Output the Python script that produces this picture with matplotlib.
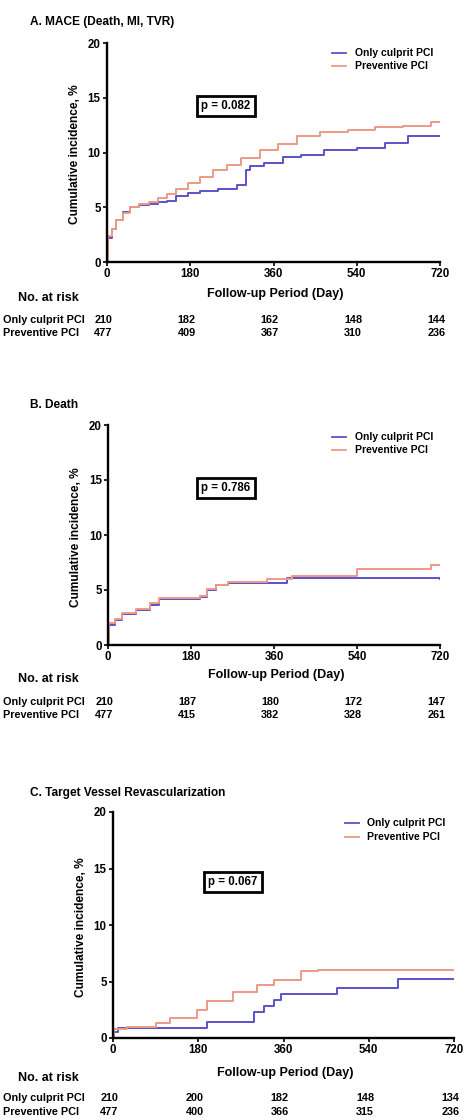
import matplotlib
matplotlib.use("Agg")
import matplotlib.pyplot as plt
from matplotlib.transforms import blended_transform_factory

plt.rcParams['font.family'] = ['Liberation Sans', 'DejaVu Sans']
plt.rcParams['font.weight'] = 'bold'

W, H = 468, 1120

series_names = ["Only culprit PCI", "Preventive PCI"]
colors = ["#5a52c8", "#ec9a86"]
xticks = [0, 180, 360, 540, 720]
yticks = [0, 5, 10, 15, 20]

titles = ["A. MACE (Death, MI, TVR)", "B. Death", "C. Target Vessel Revascularization"]
pvalues = ["p = 0.082", "p = 0.786", "p = 0.067"]

# Panel A
a_culprit_days = [0, 3, 10, 20, 35, 50, 70, 90, 110, 130, 150, 175, 200, 240, 280, 300, 310, 340, 380, 420, 470, 540, 600, 650, 720]
a_culprit_vals = [0, 2.2, 3.0, 3.8, 4.6, 5.0, 5.2, 5.3, 5.5, 5.6, 6.0, 6.3, 6.5, 6.7, 7.0, 8.4, 8.8, 9.0, 9.6, 9.8, 10.2, 10.4, 10.9, 11.5, 11.5]
a_prev_days = [0, 3, 10, 20, 35, 50, 70, 90, 110, 130, 150, 175, 200, 230, 260, 290, 330, 370, 410, 460, 520, 580, 640, 700, 720]
a_prev_vals = [0, 2.4, 3.0, 3.8, 4.5, 5.0, 5.3, 5.5, 5.8, 6.2, 6.7, 7.2, 7.8, 8.4, 8.9, 9.5, 10.2, 10.8, 11.5, 11.9, 12.1, 12.3, 12.4, 12.8, 12.8]

# Panel B
b_culprit_days = [0, 3, 15, 30, 60, 90, 110, 200, 215, 235, 260, 388, 720]
b_culprit_vals = [0, 1.8, 2.3, 2.8, 3.2, 3.6, 4.2, 4.4, 5.0, 5.5, 5.6, 6.1, 6.0]
b_prev_days = [0, 3, 15, 30, 60, 90, 110, 200, 215, 235, 260, 345, 400, 540, 700, 720]
b_prev_vals = [0, 2.0, 2.4, 2.9, 3.3, 3.8, 4.3, 4.5, 5.1, 5.5, 5.7, 6.0, 6.3, 6.9, 7.3, 7.3]

# Panel C
c_culprit_days = [0, 3, 10, 199, 297, 318, 339, 354, 474, 601, 720]
c_culprit_vals = [0, 0.5, 0.9, 1.4, 2.3, 2.8, 3.4, 3.9, 4.4, 5.2, 5.2]
c_prev_days = [0, 3, 30, 90, 121, 178, 199, 254, 305, 339, 396, 432, 720]
c_prev_vals = [0, 0.8, 1.0, 1.3, 1.8, 2.5, 3.3, 4.1, 4.7, 5.1, 5.9, 6.0, 6.0]

# Numbers at risk
a_risk_culprit = ["210", "182", "162", "148", "144"]
a_risk_prev = ["477", "409", "367", "310", "236"]
b_risk_culprit = ["210", "187", "180", "172", "147"]
b_risk_prev = ["477", "415", "382", "328", "261"]
c_risk_culprit = ["210", "200", "182", "148", "134"]
c_risk_prev = ["477", "400", "366", "315", "236"]

panels = [
    dict(curves=[(a_culprit_days, a_culprit_vals), (a_prev_days, a_prev_vals)],
         risk=[a_risk_culprit, a_risk_prev],
         box=(107, 440, 43, 262), title_y=22, leg=(340, 355, 53, 66),
         pbox=(226, 106), tick_y=275, xlab_y=294, risk_head_y=298, rows_y=(320, 333)),
    dict(curves=[(b_culprit_days, b_culprit_vals), (b_prev_days, b_prev_vals)],
         risk=[b_risk_culprit, b_risk_prev],
         box=(108, 440, 425, 645), title_y=405, leg=(340, 355, 437, 450),
         pbox=(226, 488), tick_y=660, xlab_y=675, risk_head_y=679, rows_y=(702, 715)),
    dict(curves=[(c_culprit_days, c_culprit_vals), (c_prev_days, c_prev_vals)],
         risk=[c_risk_culprit, c_risk_prev],
         box=(113, 454, 812, 1038), title_y=793, leg=(353, 367, 823, 837),
         pbox=(233, 882), tick_y=1053, xlab_y=1073, risk_head_y=1078, rows_y=(1098, 1112)),
]

fig = plt.figure(figsize=(W / 100, H / 100), dpi=100)

def fx(px):
    return px / W

def fy(py):
    return 1 - py / H

for i, p in enumerate(panels):
    l, r, t, b = p["box"]
    ax = fig.add_axes([fx(l), fy(b), fx(r) - fx(l), fy(t) - fy(b)])
    for (d, v), c in zip(p["curves"], colors):
        ax.plot(d, v, drawstyle="steps-post", color=c, lw=1.4)
    ax.set_xlim(0, 720)
    ax.set_ylim(0, 20)
    ax.set_xticks(xticks)
    ax.set_yticks(yticks)
    ax.tick_params(labelsize=8.3, length=3, width=1.2, pad=1.5)
    for lab in ax.get_xticklabels() + ax.get_yticklabels():
        lab.set_fontweight('bold')
    for s in ["top", "right"]:
        ax.spines[s].set_visible(False)
    for s in ["left", "bottom"]:
        ax.spines[s].set_linewidth(1.7)
    ax.patch.set_alpha(0)
    # y label
    fig.text(fx(l - 32), fy((t + b) / 2 + 2), "Cumulative incidence, %", rotation=90,
             ha="center", va="center", fontsize=8.6, fontweight="bold")
    # title
    fig.text(fx(30), fy(p["title_y"]), titles[i], ha="left", va="center",
             fontsize=8.6, fontweight="bold")
    # legend
    x0, x1, y0, y1 = p["leg"]
    for name, c, yy in zip(series_names, colors, (y0, y1)):
        fig.add_artist(plt.Line2D([fx(x0 - 8), fx(x0 + 6)], [fy(yy), fy(yy)], color=c, lw=1.3))
        fig.text(fx(x1), fy(yy), name, ha="left", va="center", fontsize=7.5, fontweight="bold")
    # p-value box
    px, py = p["pbox"]
    fig.text(fx(px), fy(py), pvalues[i], ha="center", va="center", fontsize=8.3,
             fontweight="bold",
             bbox=dict(boxstyle="square,pad=0.35", fc="white", ec="black", lw=2.0))
    # x label
    fig.text(fx((l + r) / 2 + 2), fy(p["xlab_y"]), "Follow-up Period (Day)", ha="center",
             va="center", fontsize=9, fontweight="bold")
    fig.text(fx(48), fy(p["risk_head_y"]), "No. at risk", ha="center", va="center",
             fontsize=9, fontweight="bold")
    trans = blended_transform_factory(ax.transData, fig.transFigure)
    for name, row, ry in zip(series_names, p["risk"], p["rows_y"]):
        fig.text(fx(3), fy(ry), name, ha="left", va="center", fontsize=7.8, fontweight="bold")
        for xt, val in zip(xticks, row):
            ax.text(xt - 8, fy(ry), val, transform=trans, ha="center", va="center",
                    fontsize=7.8, fontweight="bold", clip_on=False)

fig.savefig("out.png", dpi=100)
